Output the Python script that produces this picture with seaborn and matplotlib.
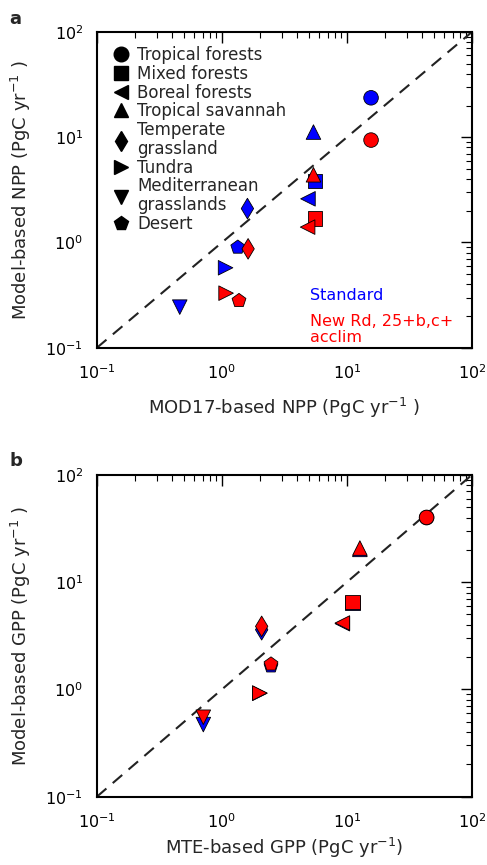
import numpy as np
import pandas as pd
import seaborn as sns
import matplotlib.pyplot as plt
from matplotlib.lines import Line2D
from matplotlib.ticker import LogLocator, NullFormatter

# biomes and their marker shapes
biomes = ["Tropical forests", "Mixed forests", "Boreal forests", "Tropical savannah",
          "Temperate\ngrassland", "Tundra", "Mediterranean\ngrasslands", "Desert"]
markers = ["o", "s", "<", "^", "d", ">", "v", "p"]

# panel a: NPP (PgC/yr)
npp_mod17 = [15.6, 5.55, 4.88, 5.4, 1.6, 1.07, 0.46, 1.34]
npp_std = [23.7, 3.85, 2.6, 11.2, 2.1, 0.575, 0.243, 0.9]
npp_mod17_new = [15.6, 5.55, 4.85, 5.4, 1.62, 1.08, np.nan, 1.37]
npp_new = [9.4, 1.7, 1.4, 4.4, 0.87, 0.33, np.nan, 0.28]

# panel b: GPP (PgC/yr)
gpp_mte = [43.4, 11.1, 9.2, 12.7, 2.08, 2.01, 0.71, 2.47]
gpp_std = [40.0, 6.4, 4.1, 20.2, 3.6, 0.92, 0.47, 1.65]
gpp_new = [40.1, 6.5, 4.16, 20.8, 3.87, 0.925, 0.55, 1.72]

runs = ["Standard", "New Rd, 25+b,c+\nacclim"]
run_colors = {runs[0]: "blue", runs[1]: "red"}


def make_df(x_std, y_std, x_new, y_new):
    d1 = pd.DataFrame({"x": x_std, "y": y_std, "biome": biomes, "run": runs[0]})
    d2 = pd.DataFrame({"x": x_new, "y": y_new, "biome": biomes, "run": runs[1]})
    return pd.concat([d1, d2], ignore_index=True).dropna()


def style_ax(ax, xlabel, ylabel, xpad=10):
    ax.set_xscale("log")
    ax.set_yscale("log")
    ax.set_xlim(0.1, 100)
    ax.set_ylim(0.1, 100)
    ax.plot([0.1, 100], [0.1, 100], color="#222222", lw=1.5, ls=(0, (6, 4)), zorder=1)
    for a in (ax.xaxis, ax.yaxis):
        a.set_major_locator(LogLocator(base=10))
        a.set_minor_locator(LogLocator(base=10, subs=np.arange(2, 10)))
        a.set_minor_formatter(NullFormatter())
    ax.tick_params(which="both", direction="in", top=True, right=True, labelsize=11.5, colors="black")
    ax.tick_params(which="major", length=8, width=1)
    ax.tick_params(which="minor", length=4, width=0.8)
    ax.tick_params(axis="x", pad=11)
    ax.tick_params(axis="y", pad=10)
    for sp in ax.spines.values():
        sp.set_visible(True)
        sp.set_linewidth(1.5)
        sp.set_color("black")
    ax.set_xlabel(xlabel, fontsize=13, labelpad=xpad)
    ax.set_ylabel(ylabel, fontsize=13, labelpad=9)


sns.set_style("white")
plt.rcParams["font.family"] = ["DejaVu Sans"]

fig = plt.figure(figsize=(4.87, 8.65), dpi=100)
ax1 = fig.add_axes([0.199, 0.598, 0.770, 0.365])
ax2 = fig.add_axes([0.199, 0.079, 0.770, 0.372])

marker_map = dict(zip(biomes, markers))

df_a = make_df(npp_mod17, npp_std, npp_mod17_new, npp_new)
sns.scatterplot(data=df_a, x="x", y="y", hue="run", style="biome", markers=marker_map,
                palette=run_colors, s=110, edgecolor="black", linewidth=0.6,
                legend=False, ax=ax1, zorder=3)
style_ax(ax1, "MOD17-based NPP (PgC yr$^{-1}$ )", "Model-based NPP (PgC yr$^{-1}$ )", xpad=10)

df_b = make_df(gpp_mte, gpp_std, gpp_mte, gpp_new)
sns.scatterplot(data=df_b, x="x", y="y", hue="run", style="biome", markers=marker_map,
                palette=run_colors, s=110, edgecolor="black", linewidth=0.6,
                legend=False, ax=ax2, zorder=3)
style_ax(ax2, "MTE-based GPP (PgC yr$^{-1}$)", "Model-based GPP (PgC yr$^{-1}$ )", xpad=4)

# black-marker legend for biomes
handles = [Line2D([], [], ls="none", marker=m, color="black", markersize=10.5) for m in markers]
leg = ax1.legend(handles, biomes, loc="upper left", frameon=False, fontsize=12,
                 handletextpad=0.35, labelspacing=0.04, borderaxespad=0.5,
                 handlelength=1.2, borderpad=0.35)
for t in leg.get_texts():
    t.set_linespacing(1.08)

ax1.text(0.568, 0.165, runs[0], color="blue", fontsize=11.5, transform=ax1.transAxes, va="center")
ax1.text(0.568, 0.108, runs[1], color="red", fontsize=11.5, transform=ax1.transAxes, va="top",
         linespacing=1.1)

fig.text(0.02, 0.988, "a", fontsize=13, fontweight="bold", va="top")
fig.text(0.02, 0.478, "b", fontsize=13, fontweight="bold", va="top")

fig.savefig("out.png", dpi=100)
